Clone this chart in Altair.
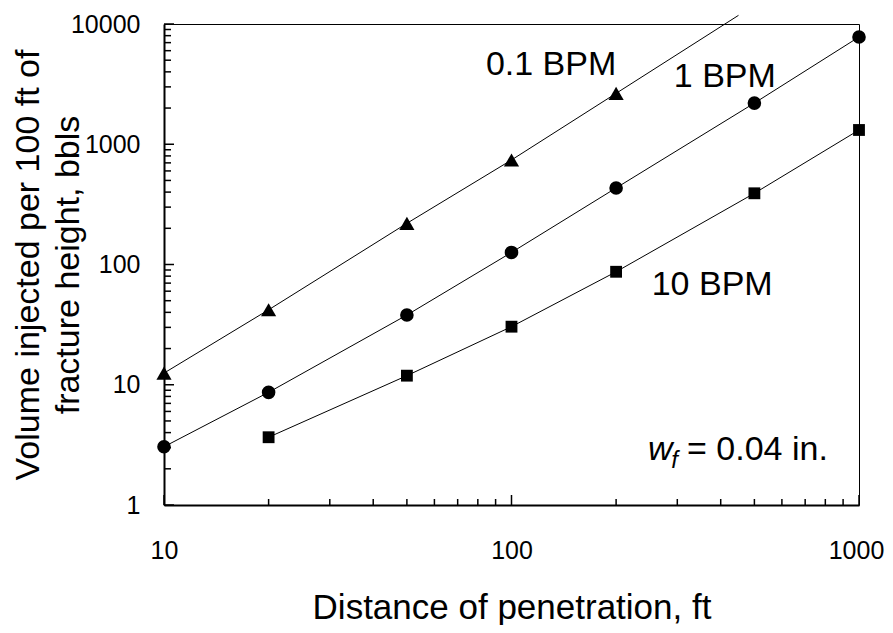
import altair as alt
import pandas as pd

FONT = "Liberation Sans"

# ---- data ----
dist_01 = [10, 20, 50, 100, 200]
vol_01 = [12.5, 42, 220, 740, 2650]
line_ext_x = [450]          # the 0.1 BPM line continues past the last marker
line_ext_y = [11800]

dist_1 = [10, 20, 50, 100, 200, 500, 1000]
vol_1 = [3.05, 8.65, 38, 126, 433, 2200, 7800]

dist_10 = [20, 50, 100, 200, 500, 1000]
vol_10 = [3.66, 11.9, 30.4, 87, 391, 1314]

series_names = ["0.1 BPM", "1 BPM", "10 BPM"]
series_shapes = ["triangle-up", "circle", "square"]
series_sizes = [230, 140, 150]

x_major = [10, 100, 1000]
x_minor = [20, 30, 40, 50, 60, 70, 80, 90, 200, 300, 400, 500, 600, 700, 800, 900]
y_major = [1, 10, 100, 1000, 10000]
y_minor = [m * d for d in [1, 10, 100, 1000] for m in range(2, 10)]

# annotation labels (placed in data coordinates)
lab_text = ["0.1 BPM", "1 BPM", "10 BPM"]
lab_x = [130, 411, 378]
lab_y = [3767, 2994, 55.7]

W, H = 695, 481

pts = pd.DataFrame({
    "x": dist_01 + dist_1 + dist_10,
    "y": vol_01 + vol_1 + vol_10,
    "s": [series_names[0]] * len(dist_01) + [series_names[1]] * len(dist_1) + [series_names[2]] * len(dist_10),
})
lines = pd.DataFrame({
    "x": dist_01 + line_ext_x + dist_1 + dist_10,
    "y": vol_01 + line_ext_y + vol_1 + vol_10,
    "s": [series_names[0]] * (len(dist_01) + 1) + [series_names[1]] * len(dist_1) + [series_names[2]] * len(dist_10),
})

xscale = alt.Scale(type="log", domain=[10, 1000], nice=False)
yscale = alt.Scale(type="log", domain=[1, 10000], nice=False)

xaxis = alt.Axis(
    values=x_major, format="d", ticks=False, tickSize=0, grid=False,
    domainColor="black", domainWidth=2, labelFont=FONT, labelFontSize=25,
    labelColor="black", labelPadding=33, labelFlush=False, labelOverlap=False,
    labelOffset={"condition": {"test": "datum.value >= 1000", "value": -3}, "value": 0},
    title="Distance of penetration, ft", titleFont=FONT, titleFontSize=35,
    titleFontWeight="normal", titleColor="black", titleX=W / 2, titleY=113,
    titleBaseline="alphabetic", titleAlign="center",
)
yaxis = alt.Axis(
    values=y_major, format="d", ticks=False, tickSize=0, grid=False,
    domainColor="black", domainWidth=2, labelFont=FONT, labelFontSize=25,
    labelColor="black", labelPadding=24, labelFlush=False, labelOverlap=False,
    title=["Volume injected per 100 ft of", "fracture height, bbls"],
    titleFont=FONT, titleFontSize=34, titleFontWeight="normal", titleColor="black",
    titleAngle=270, titleX=-126, titleY=H / 2, titleBaseline="alphabetic",
    titleAlign="center", titleLineHeight=40,
)

line_layer = alt.Chart(lines).mark_line(color="black", strokeWidth=1, clip=False).encode(
    x=alt.X("x:Q", scale=xscale, axis=xaxis),
    y=alt.Y("y:Q", scale=yscale, axis=yaxis),
    detail="s:N",
    order="x:Q",
)

point_layer = alt.Chart(pts).mark_point(filled=True, color="black", opacity=1).encode(
    x=alt.X("x:Q", scale=xscale),
    y=alt.Y("y:Q", scale=yscale),
    shape=alt.Shape("s:N", scale=alt.Scale(domain=series_names, range=series_shapes), legend=None),
    size=alt.Size("s:N", scale=alt.Scale(domain=series_names, range=series_sizes), legend=None),
)

ym = pd.DataFrame({"v": y_major})
yn = pd.DataFrame({"v": y_minor})
xm = pd.DataFrame({"v": x_major})
xn = pd.DataFrame({"v": x_minor})

ytick_major = alt.Chart(ym).mark_rule(color="black", strokeWidth=1.5).encode(
    y=alt.Y("v:Q", scale=yscale), x=alt.value(0), x2=alt.value(10))
ytick_minor = alt.Chart(yn).mark_rule(color="black", strokeWidth=1.5).encode(
    y=alt.Y("v:Q", scale=yscale), x=alt.value(0), x2=alt.value(7))
xtick_major = alt.Chart(xm).mark_rule(color="black", strokeWidth=1.5).encode(
    x=alt.X("v:Q", scale=xscale), y=alt.value(H), y2=alt.value(H - 10))
xtick_minor = alt.Chart(xn).mark_rule(color="black", strokeWidth=1.5).encode(
    x=alt.X("v:Q", scale=xscale), y=alt.value(H), y2=alt.value(H - 6))

labels = pd.DataFrame({"t": lab_text, "x": lab_x, "y": lab_y})
label_layer = alt.Chart(labels).mark_text(
    font=FONT, fontSize=34, color="black", align="center", baseline="alphabetic"
).encode(x=alt.X("x:Q", scale=xscale), y=alt.Y("y:Q", scale=yscale), text="t:N")

wf_w = alt.Chart(pd.DataFrame({"t": ["w"], "x": [247], "y": [2.367]})).mark_text(
    font=FONT, fontSize=34, fontStyle="italic", color="black", align="left", baseline="alphabetic"
).encode(x=alt.X("x:Q", scale=xscale), y=alt.Y("y:Q", scale=yscale), text="t:N")
wf_f = alt.Chart(pd.DataFrame({"t": ["f"], "x": [288], "y": [2.03]})).mark_text(
    font=FONT, fontSize=24, fontStyle="italic", color="black", align="left", baseline="alphabetic"
).encode(x=alt.X("x:Q", scale=xscale), y=alt.Y("y:Q", scale=yscale), text="t:N")
wf_rest = alt.Chart(pd.DataFrame({"t": ["= 0.04 in."], "x": [320], "y": [2.367]})).mark_text(
    font=FONT, fontSize=34, color="black", align="left", baseline="alphabetic"
).encode(x=alt.X("x:Q", scale=xscale), y=alt.Y("y:Q", scale=yscale), text="t:N")

chart = alt.layer(
    line_layer, point_layer, ytick_major, ytick_minor, xtick_major, xtick_minor,
    label_layer, wf_w, wf_f, wf_rest,
).properties(
    width=W, height=H,
    autosize=alt.AutoSizeParams(type="none"),
    padding={"left": 156, "top": 16, "right": 26, "bottom": 120},
    background="white",
).configure_view(stroke="black", strokeWidth=1)

chart.save("out.html", embed_options={"renderer": "svg", "actions": False})
